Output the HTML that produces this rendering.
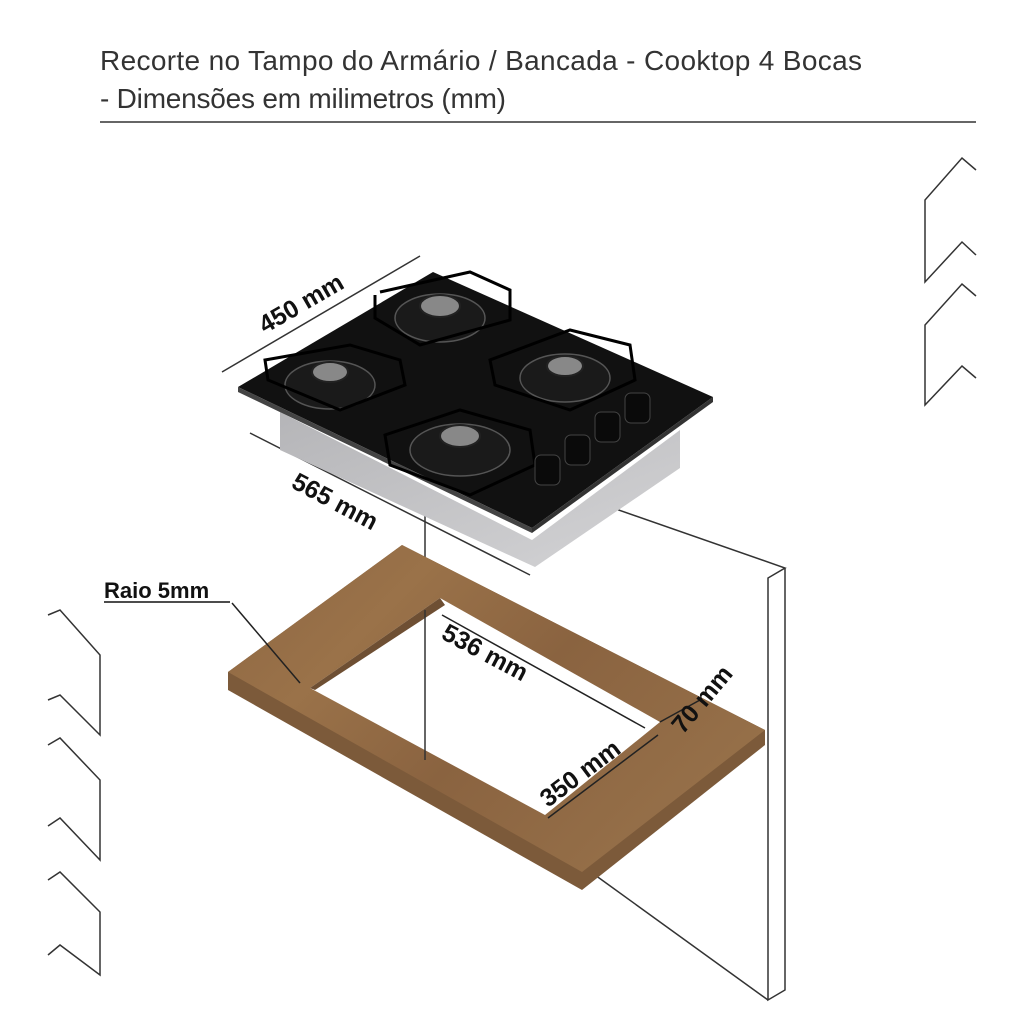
<!DOCTYPE html>
<html><head><meta charset="utf-8"><style>
html,body{margin:0;padding:0;background:#fff;width:1024px;height:1024px;overflow:hidden}
svg{display:block}
</style></head><body>
<svg width="1024" height="1024" viewBox="0 0 1024 1024" xmlns="http://www.w3.org/2000/svg">
<defs>
<linearGradient id="wood" x1="0" y1="0" x2="1" y2="0.6">
<stop offset="0" stop-color="#8d6642"/><stop offset="0.3" stop-color="#9a7249"/><stop offset="0.6" stop-color="#8a6340"/><stop offset="1" stop-color="#967049"/>
</linearGradient>
<linearGradient id="steel" x1="0" y1="0" x2="1" y2="1">
<stop offset="0" stop-color="#b5b5b8"/><stop offset="1" stop-color="#d4d4d6"/>
</linearGradient>
</defs>
<text x="100" y="70" font-family="Liberation Sans, sans-serif" font-size="28" fill="#333" textLength="762">Recorte no Tampo do Armário / Bancada -  Cooktop 4 Bocas</text>
<text x="100" y="108" font-family="Liberation Sans, sans-serif" font-size="28" fill="#333" textLength="406">- Dimensões em milimetros (mm)</text>
<line x1="100" y1="122" x2="976" y2="122" stroke="#333" stroke-width="1.5"/>
<g fill="none" stroke="#333" stroke-width="1.5">
<path d="M976 170 L962 158 L925 200 L925 282 L962 242 L976 255"/>
<path d="M976 296 L962 284 L925 325 L925 405 L962 366 L976 378"/>
<path d="M48 615 L60 610 L100 655 L100 735 L60 695 L48 700"/>
<path d="M48 745 L60 738 L100 780 L100 860 L60 818 L48 826"/>
<path d="M48 880 L60 872 L100 912 L100 975 L60 945 L48 955"/>
<path d="M590 500 L785 568 L768 578 L768 1000 L785 990 L785 568"/>
<path d="M595 875 L768 1000"/>
<line x1="425" y1="500" x2="425" y2="760"/>
<line x1="222" y1="372" x2="420" y2="256"/>
<line x1="250" y1="433" x2="530" y2="575"/>
</g>
<polygon points="228,672 402,545 765,730 765,745 582,890 228,690" fill="#7c5a3a"/>
<polygon points="228,672 402,545 765,730 582,872" fill="url(#wood)"/>
<polygon points="440,598 310,688 545,815 660,722" fill="#fff"/>
<polygon points="440,598 310,688 315,690 445,605" fill="#6e4f33"/>
<line x1="425" y1="610" x2="425" y2="760" stroke="#333" stroke-width="1.5"/>
<g stroke="#222" stroke-width="1.5" fill="none">
<line x1="442" y1="615" x2="645" y2="728"/>
<line x1="548" y1="818" x2="658" y2="735"/>
<line x1="660" y1="722" x2="700" y2="700"/>
<path d="M232 603 L300 683"/>
</g>
<polygon points="280,412 532,540 680,430 680,468 535,567 280,450" fill="url(#steel)"/>
<polygon points="238,387 433,272 713,397 532,528" fill="#111"/>
<polygon points="238,387 532,528 532,533 238,392" fill="#444"/>
<polygon points="532,528 713,397 713,402 532,533" fill="#333"/>
<g fill="#1a1a1a" stroke="#555" stroke-width="1.5">
<ellipse cx="440" cy="318" rx="45" ry="24"/><ellipse cx="330" cy="385" rx="45" ry="24"/>
<ellipse cx="565" cy="378" rx="45" ry="24"/><ellipse cx="460" cy="450" rx="50" ry="26"/>
</g>
<g fill="#888" stroke="#222" stroke-width="2">
<ellipse cx="440" cy="306" rx="20" ry="11"/><ellipse cx="330" cy="372" rx="18" ry="10"/>
<ellipse cx="565" cy="366" rx="18" ry="10"/><ellipse cx="460" cy="436" rx="20" ry="11"/>
</g>
<g fill="none" stroke="#000" stroke-width="3">
<path d="M375 295 L375 318 L420 345 L510 320 L510 290 L470 272 L380 292"/>
<path d="M265 360 L268 380 L340 410 L405 385 L400 360 L350 345 Z"/>
<path d="M490 360 L495 385 L570 410 L635 380 L630 345 L570 330 Z"/>
<path d="M385 435 L390 465 L470 495 L535 465 L530 430 L460 410 Z"/>
</g>
<g fill="#0a0a0a" stroke="#444">
<rect x="535" y="455" width="25" height="30" rx="6"/><rect x="565" y="435" width="25" height="30" rx="6"/>
<rect x="595" y="412" width="25" height="30" rx="6"/><rect x="625" y="393" width="25" height="30" rx="6"/>
</g>
<g font-family="Liberation Sans, sans-serif" font-weight="bold" fill="#111">
<text x="0" y="0" font-size="25" transform="translate(265,334) rotate(-30)">450 mm</text>
<text x="0" y="0" font-size="25" transform="translate(290,487) rotate(28)">565 mm</text>
<text x="104" y="598" font-size="22">Raio 5mm</text>
<text x="0" y="0" font-size="25" transform="translate(440,638) rotate(28)">536 mm</text>
<text x="0" y="0" font-size="25" transform="translate(548,808) rotate(-37)">350 mm</text>
<text x="0" y="0" font-size="25" transform="translate(683,735) rotate(-50)">70 mm</text>
</g>
<line x1="104" y1="602" x2="230" y2="602" stroke="#111" stroke-width="1.5"/>
</svg>
</body></html>
